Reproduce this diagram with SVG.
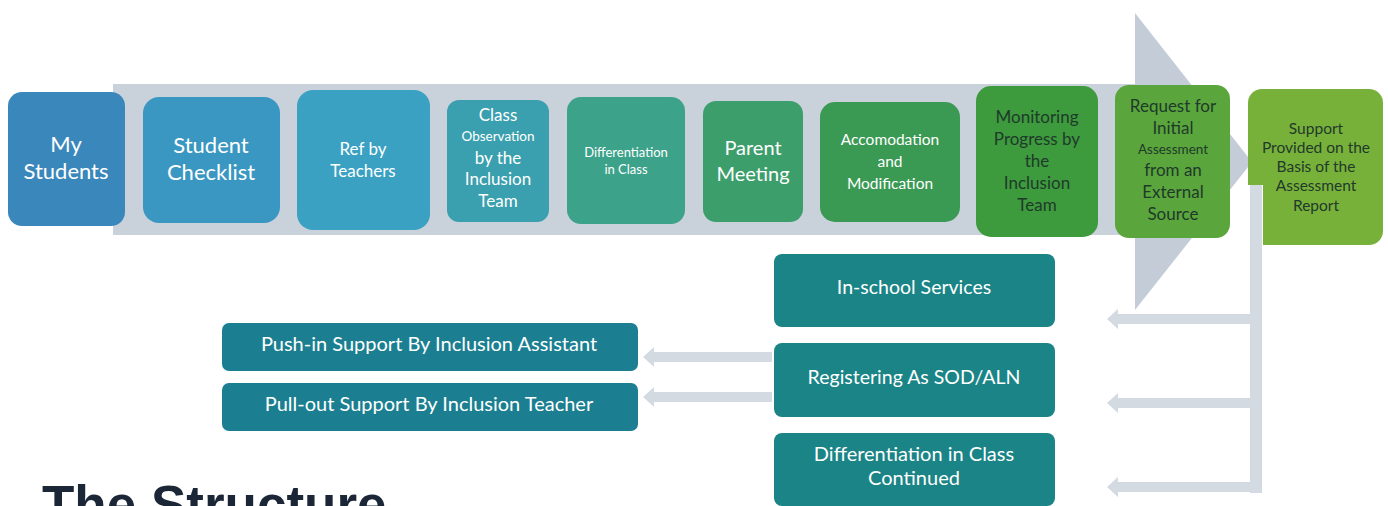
<svg xmlns="http://www.w3.org/2000/svg" width="1388" height="506" viewBox="0 0 1388 506">
<style>
.t{fill:#ffffff;font-family:"Lato","Liberation Sans",sans-serif;text-anchor:middle}
.d{fill:#1f3a2a}
.conn{fill:#d3dae2}
.box2{fill:#1a8486}
.box3{fill:#1b7f91}
</style>
<rect width="1388" height="506" fill="#ffffff"/>
<g id="band">
<rect x="113" y="84" width="1025" height="151" fill="#c9d2db"/>
<polygon points="1135,13 1252,162 1135,310" fill="#c4cdd7"/>
</g>
<g id="connectors">
<rect x="1250" y="185" width="12" height="308" class="conn"/>
<polygon points="1107,319 1118,309 1118,314 1262,314 1262,324 1118,324 1118,329" class="conn"/>
<polygon points="1107,403 1118,393 1118,398 1262,398 1262,408 1118,408 1118,413" class="conn"/>
<polygon points="1107,487 1118,477 1118,482 1262,482 1262,492 1118,492 1118,497" class="conn"/>
<polygon points="643,357 654,347 654,352 772,352 772,362 654,362 654,367" class="conn"/>
<polygon points="643,397 654,387 654,392 772,392 772,402 654,402 654,407" class="conn"/>
</g>
<g id="n1"><rect x="8" y="92" width="117" height="134" rx="14" fill="#3a87bb"/>
<text class="t" font-size="22" x="66" y="152">My</text><text class="t" font-size="22" x="66" y="179">Students</text></g>
<g id="n2"><rect x="143" y="97" width="137" height="126" rx="16" fill="#3a97c2"/>
<text class="t" font-size="22" x="211" y="153">Student</text><text class="t" font-size="22" x="211" y="180">Checklist</text></g>
<g id="n3"><rect x="297" y="90" width="133" height="140" rx="16" fill="#3aa1c3"/>
<text class="t" font-size="17" x="363" y="155">Ref by</text><text class="t" font-size="17" x="363" y="177">Teachers</text></g>
<g id="n4"><rect x="447" y="100" width="102" height="122" rx="12" fill="#3a9fae"/>
<text class="t" font-size="17" x="498" y="121">Class</text>
<text class="t" font-size="13.5" x="498" y="141">Observation</text>
<text class="t" font-size="17" x="498" y="164">by the</text>
<text class="t" font-size="17" x="498" y="185">Inclusion</text>
<text class="t" font-size="17" x="498" y="207">Team</text></g>
<g id="n5"><rect x="567" y="97" width="118" height="127" rx="14" fill="#3ca28a"/>
<text class="t" font-size="13" x="626" y="157">Differentiation</text><text class="t" font-size="13" x="626" y="174">in Class</text></g>
<g id="n6"><rect x="703" y="101" width="100" height="121" rx="13" fill="#3c9e6b"/>
<text class="t" font-size="20" x="753" y="155">Parent</text><text class="t" font-size="20" x="753" y="181">Meeting</text></g>
<g id="n7"><rect x="820" y="102" width="140" height="120" rx="15" fill="#3a9953"/>
<text class="t" font-size="15.5" x="890" y="145">Accomodation</text><text class="t" font-size="15.5" x="890" y="167">and</text><text class="t" font-size="15.5" x="890" y="189">Modification</text></g>
<g id="n8"><rect x="976" y="86" width="122" height="151" rx="15" fill="#3d9a3d"/>
<text class="t d" font-size="17" x="1037" y="123">Monitoring</text>
<text class="t d" font-size="17" x="1037" y="145">Progress by</text>
<text class="t d" font-size="17" x="1037" y="167">the</text>
<text class="t d" font-size="17" x="1037" y="189">Inclusion</text>
<text class="t d" font-size="17" x="1037" y="211">Team</text></g>
<g id="n9"><rect x="1115" y="85" width="115" height="153" rx="14" fill="#5aa63c"/>
<text class="t d" font-size="17" x="1173" y="112">Request for</text>
<text class="t d" font-size="17" x="1173" y="134">Initial</text>
<text class="t d" font-size="13.5" x="1173" y="154">Assessment</text>
<text class="t d" font-size="17" x="1173" y="176">from an</text>
<text class="t d" font-size="17" x="1173" y="198">External</text>
<text class="t d" font-size="17" x="1173" y="220">Source</text></g>
<g id="n10"><rect x="1248" y="89" width="135" height="156" rx="14" fill="#78b13a"/>
<rect x="1248" y="185" width="15" height="62" fill="#ffffff"/>
<rect x="1250" y="185" width="12" height="62" class="conn"/>
<text class="t d" font-size="15.5" x="1316" y="134">Support</text>
<text class="t d" font-size="15.5" x="1316" y="153">Provided on the</text>
<text class="t d" font-size="15.5" x="1316" y="172">Basis of the</text>
<text class="t d" font-size="15.5" x="1316" y="191">Assessment</text>
<text class="t d" font-size="15.5" x="1316" y="211">Report</text></g>
<g id="n11"><rect x="774" y="254" width="281" height="73" rx="8" class="box2"/>
<text class="t" font-size="19.5" x="914" y="294">In-school Services</text></g>
<g id="n12"><rect x="774" y="343" width="281" height="74" rx="8" class="box2"/>
<text class="t" font-size="19.5" x="914" y="384">Registering As SOD/ALN</text></g>
<g id="n13"><rect x="774" y="433" width="281" height="73" rx="8" class="box2"/>
<text class="t" font-size="20" x="914" y="461">Differentiation in Class</text><text class="t" font-size="20" x="914" y="485">Continued</text></g>
<g id="n14"><rect x="222" y="323" width="416" height="48" rx="7" class="box3"/>
<text class="t" font-size="20" x="429" y="351">Push-in Support By Inclusion Assistant</text></g>
<g id="n15"><rect x="222" y="383" width="416" height="48" rx="7" class="box3"/>
<text class="t" font-size="20" x="429" y="411">Pull-out Support By Inclusion Teacher</text></g>
<text x="42" y="523" font-family="Liberation Sans, Arial, sans-serif" font-weight="bold" font-size="53" fill="#1b2736">The Structure</text>
</svg>
